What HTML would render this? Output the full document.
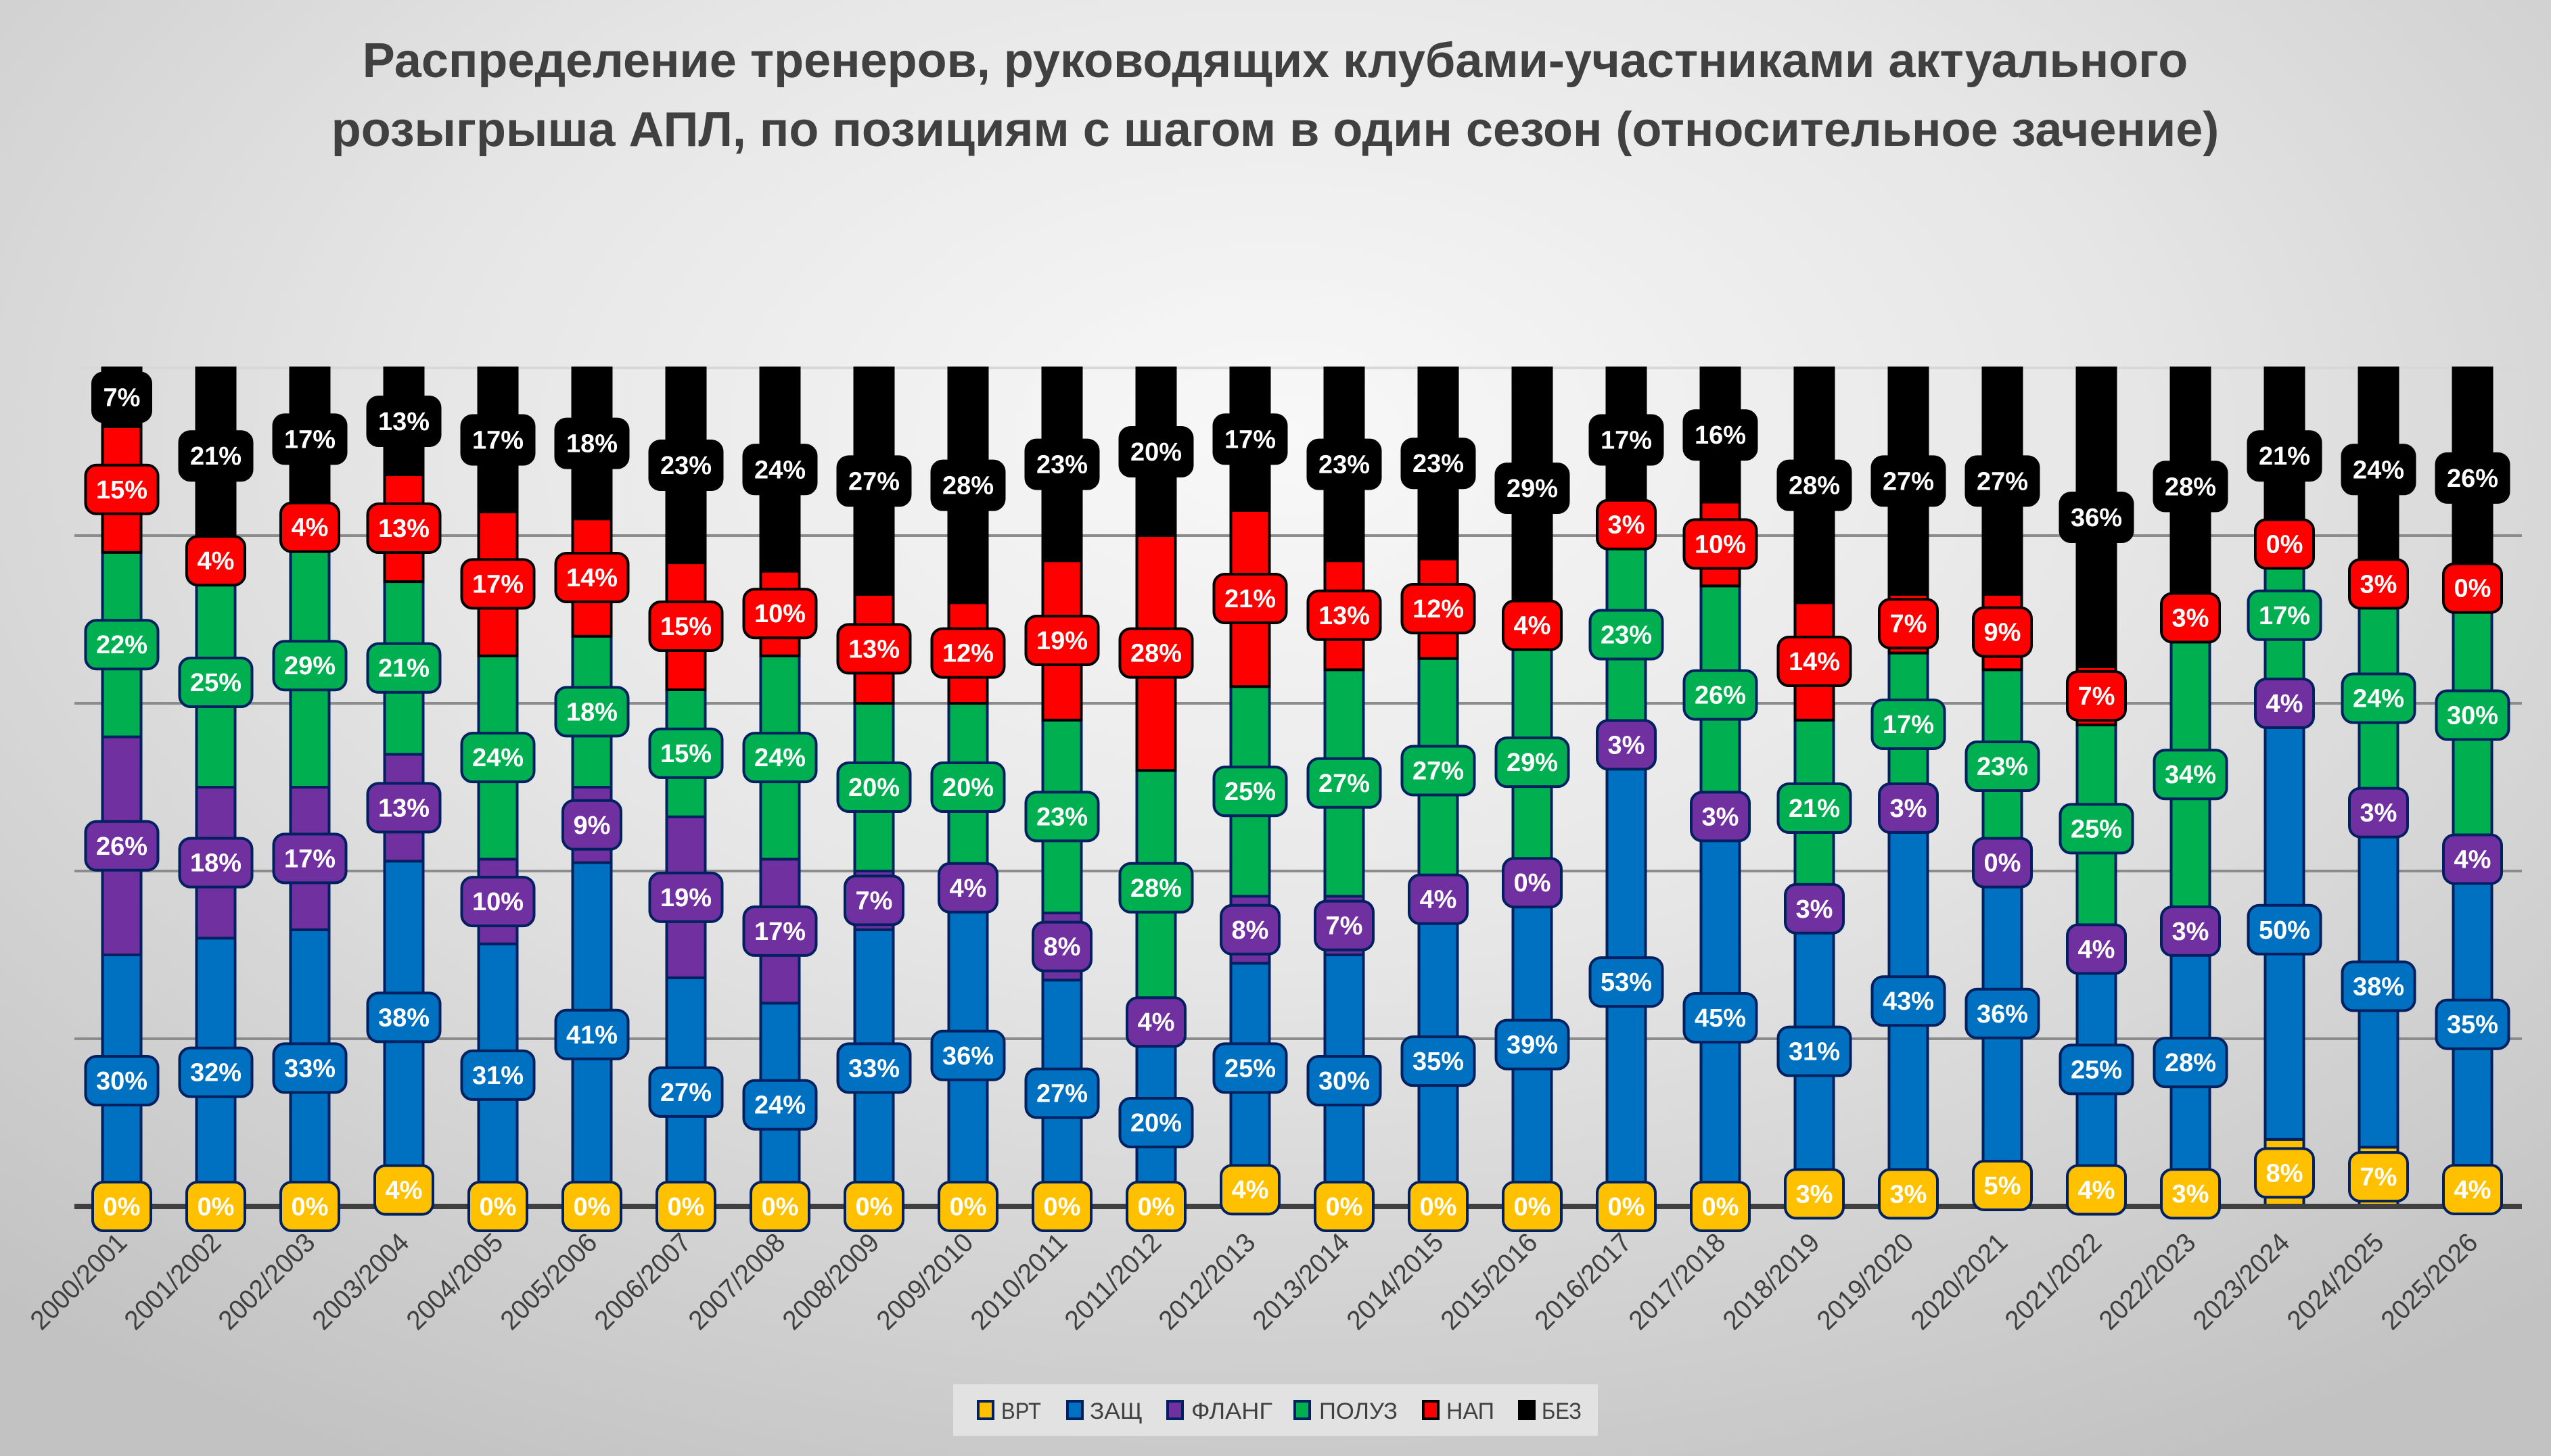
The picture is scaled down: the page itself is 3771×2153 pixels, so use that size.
<!DOCTYPE html>
<html><head><meta charset="utf-8">
<style>
html,body{margin:0;padding:0}
body{width:3771px;height:2153px;overflow:hidden;background:radial-gradient(ellipse 75% 80% at 50% 30%, #f8f8f8 0%, #e6e6e6 45%, #cfcfcf 80%, #c2c2c2 100%);font-family:"Liberation Sans","DejaVu Sans",sans-serif}
svg{position:absolute;left:0;top:0}
</style></head>
<body>
<svg id="chart" width="3771" height="2153">
<text x="1885" y="114" text-anchor="middle" font-size="72" font-weight="bold" fill="#404040">Распределение тренеров, руководящих клубами-участниками актуального</text>
<text x="1885" y="216" text-anchor="middle" font-size="72" font-weight="bold" fill="#404040">розыгрыша АПЛ, по позициям с шагом в один сезон (относительное зачение)</text>
<g id="grid"></g><g id="bars"></g><g id="labels"></g><g id="xlabels"></g>
<rect x="1409" y="2047" width="953" height="76" fill="#e2e2e2"/>
<g id="legend"></g>
</svg>
<script>
const categories=["2000/2001","2001/2002","2002/2003","2003/2004","2004/2005","2005/2006","2006/2007","2007/2008","2008/2009","2009/2010","2010/2011","2011/2012","2012/2013","2013/2014","2014/2015","2015/2016","2016/2017","2017/2018","2018/2019","2019/2020","2020/2021","2021/2022","2022/2023","2023/2024","2024/2025","2025/2026"];
const seriesNames=["ВРТ","ЗАЩ","ФЛАНГ","ПОЛУЗ","НАП","БЕЗ"];
const vrt=[0,0,0,4,0,0,0,0,0,0,0,0,4,0,0,0,0,0,3,3,5,4,3,8,7,4];
const zasch=[30,32,33,38,31,41,27,24,33,36,27,20,25,30,35,39,53,45,31,43,36,25,28,50,38,35];
const flang=[26,18,17,13,10,9,19,17,7,4,8,4,8,7,4,0,3,3,3,3,0,4,3,4,3,4];
const poluz=[22,25,29,21,24,18,15,24,20,20,23,28,25,27,27,29,23,26,21,17,23,25,34,17,24,30];
const nap=[15,4,4,13,17,14,15,10,13,12,19,28,21,13,12,4,3,10,14,7,9,7,3,0,3,0];
const bez=[7,21,17,13,17,18,23,24,27,28,23,20,17,23,23,29,17,16,28,27,27,36,28,21,24,26];
const yTicks=[0,20,40,60,80,100];

const colors=["#FFC000","#0070C0","#7030A0","#00B050","#FF0000","#000000"];
const strokes=["#002060","#002060","#002060","#002060","#000000","#000000"];
const NS="http://www.w3.org/2000/svg";
const y0=1784,y100=544,x0=180,dx=139,bw=57;
const yScale=v=>y0-(y0-y100)*v/100;
const xScale=i=>x0+dx*i;
function mk(tag,attrs,parent){const e=document.createElementNS(NS,tag);for(const k in attrs)e.setAttribute(k,attrs[k]);parent.appendChild(e);return e;}
const grid=document.getElementById('grid'),bars=document.getElementById('bars'),labs=document.getElementById('labels'),xl=document.getElementById('xlabels'),lg=document.getElementById('legend');
yTicks.forEach(t=>{if(t===0)return;const g=mk('line',{x1:110,x2:3728,y1:yScale(t),y2:yScale(t),stroke:t===100?'#d8d8d8':'#8c8c8c','stroke-width':4},grid);

});
const series=[vrt,zasch,flang,poluz,nap,bez];
categories.forEach((c,i)=>{
  const tot=series.reduce((s,a)=>s+a[i],0);
  let acc=0;const cx=xScale(i);
  series.forEach((arr,k)=>{
    const v=arr[i]*100/tot;const ya=yScale(acc),yb=yScale(acc+v);
    if(v>0){const r=mk('rect',{x:cx-bw/2,y:yb,width:bw,height:ya-yb,fill:colors[k],stroke:strokes[k],'stroke-width':4},bars);
    
    }
    acc+=v;
  });
  acc=0;
  series.forEach((arr,k)=>{
    const v=arr[i]*100/tot;const cy=(yScale(acc)+yScale(acc+v))/2;acc+=v;
    const txt=arr[i]+'%';const w=txt.length>2?107:86;
    const g=mk('g',{},labs);
    
    
    mk('rect',{x:cx-w/2,y:cy-36,width:w,height:72,rx:16,fill:colors[k],stroke:strokes[k],'stroke-width':4},g);
    const t=mk('text',{x:cx,y:cy+13,'text-anchor':'middle','font-size':38,'font-weight':'bold',fill:'#fff'},g);t.textContent=txt;
  });
  const t=mk('text',{x:0,y:0,'text-anchor':'end','font-size':40,fill:'#404040',textLength:182,lengthAdjust:'spacingAndGlyphs',transform:`translate(${cx+10},${y0+56}) rotate(-45)`},xl);
  t.textContent=c;
  
  
});
const bl=mk('line',{x1:110,x2:3728,y1:y0,y2:y0,stroke:'#404040','stroke-width':8},grid);


bars.parentNode.insertBefore(bl,labs);
const legSwX=[1446,1578,1726,1914,2104,2246];
const legTxX=[1480,1611,1761,1950,2138,2279];
const legTxW=[59,78,120,116,71,59];
seriesNames.forEach((n,k)=>{
  const g=mk('g',{},lg);
  
  
  mk('rect',{x:legSwX[k],y:2072,width:22,height:26,fill:colors[k],stroke:strokes[k],'stroke-width':4},g);
  const t=mk('text',{x:legTxX[k],y:2098,'font-size':34,fill:'#404040',textLength:legTxW[k],lengthAdjust:'spacingAndGlyphs'},g);t.textContent=n;
});
</script>
</body></html>
